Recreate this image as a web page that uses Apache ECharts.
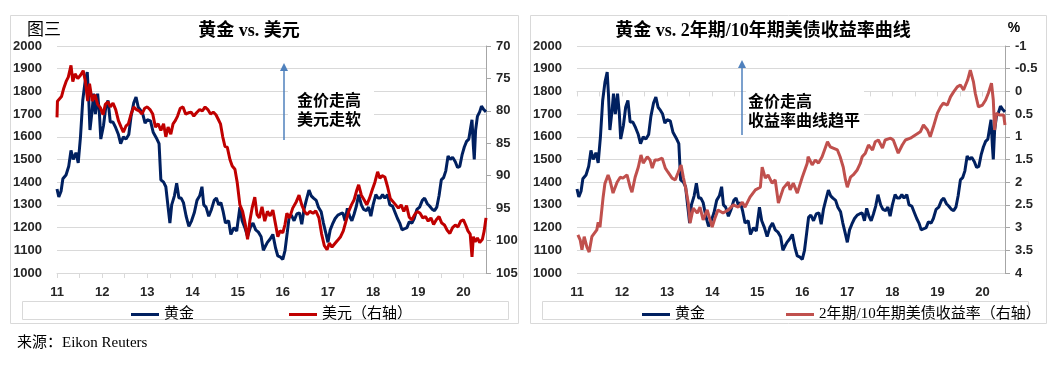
<!DOCTYPE html>
<html><head><meta charset="utf-8">
<script src="https://cdn.jsdelivr.net/npm/echarts@6/dist/echarts.min.js"></script>
<style>html,body{margin:0;padding:0;background:#fff}#c{width:1055px;height:368px}</style>
</head><body><div id="c"></div>
<script>
// ---- data ----
const yearTicks = [11,12,13,14,15,16,17,18,19,20];
// gold price (USD/oz): [decimal year, value]
const gold = [[2011.00,1370],[2011.04,1335],[2011.09,1360],[2011.13,1415],[2011.20,1432],[2011.26,1470],[2011.31,1540],[2011.36,1500],[2011.42,1530],[2011.47,1485],[2011.52,1600],[2011.57,1760],[2011.62,1840],[2011.67,1885],[2011.70,1780],[2011.73,1630],[2011.78,1720],[2011.81,1790],[2011.85,1700],[2011.90,1790],[2011.94,1700],[2011.97,1590],[2012.03,1650],[2012.08,1730],[2012.13,1760],[2012.18,1665],[2012.24,1665],[2012.30,1640],[2012.36,1610],[2012.41,1570],[2012.47,1600],[2012.53,1590],[2012.59,1610],[2012.64,1690],[2012.70,1750],[2012.75,1775],[2012.80,1730],[2012.84,1720],[2012.90,1700],[2012.95,1660],[2013.00,1675],[2013.07,1670],[2013.13,1620],[2013.20,1595],[2013.26,1570],[2013.30,1410],[2013.36,1400],[2013.41,1380],[2013.46,1290],[2013.50,1220],[2013.54,1300],[2013.60,1340],[2013.65,1395],[2013.70,1330],[2013.75,1330],[2013.80,1310],[2013.86,1250],[2013.92,1205],[2013.98,1230],[2014.04,1265],[2014.10,1320],[2014.16,1340],[2014.21,1380],[2014.25,1300],[2014.30,1290],[2014.36,1250],[2014.42,1280],[2014.48,1320],[2014.53,1330],[2014.58,1300],[2014.63,1310],[2014.68,1270],[2014.73,1220],[2014.80,1230],[2014.85,1170],[2014.92,1200],[2014.98,1185],[2015.05,1290],[2015.10,1230],[2015.16,1200],[2015.22,1160],[2015.28,1200],[2015.34,1220],[2015.40,1190],[2015.46,1180],[2015.52,1160],[2015.57,1100],[2015.62,1120],[2015.66,1135],[2015.72,1150],[2015.78,1170],[2015.84,1110],[2015.89,1075],[2015.95,1070],[2016.00,1060],[2016.05,1100],[2016.10,1180],[2016.14,1245],[2016.19,1255],[2016.25,1230],[2016.31,1260],[2016.37,1265],[2016.42,1215],[2016.47,1280],[2016.52,1320],[2016.58,1365],[2016.63,1340],[2016.68,1330],[2016.74,1320],[2016.79,1290],[2016.85,1270],[2016.90,1220],[2016.96,1170],[2017.00,1135],[2017.05,1190],[2017.10,1215],[2017.16,1240],[2017.22,1255],[2017.27,1260],[2017.33,1265],[2017.38,1230],[2017.43,1285],[2017.48,1250],[2017.53,1230],[2017.58,1260],[2017.63,1295],[2017.68,1345],[2017.74,1300],[2017.79,1280],[2017.85,1275],[2017.90,1290],[2017.95,1250],[2018.00,1300],[2018.06,1345],[2018.11,1330],[2018.16,1330],[2018.21,1345],[2018.26,1330],[2018.32,1345],[2018.37,1300],[2018.43,1295],[2018.48,1270],[2018.54,1240],[2018.59,1220],[2018.64,1190],[2018.70,1195],[2018.75,1200],[2018.80,1225],[2018.86,1220],[2018.91,1240],[2018.97,1280],[2019.03,1290],[2019.09,1320],[2019.14,1330],[2019.20,1305],[2019.25,1295],[2019.31,1280],[2019.36,1275],[2019.41,1290],[2019.46,1340],[2019.51,1410],[2019.56,1420],[2019.61,1450],[2019.66,1515],[2019.71,1500],[2019.76,1510],[2019.82,1490],[2019.87,1465],[2019.92,1470],[2019.97,1520],[2020.02,1555],[2020.07,1580],[2020.12,1590],[2020.16,1640],[2020.19,1675],[2020.22,1560],[2020.24,1500],[2020.27,1630],[2020.31,1690],[2020.36,1710],[2020.40,1735],[2020.45,1720],[2020.50,1710]];
// US dollar index (right axis, inverted)
const usd = [[2011.00,81.0],[2011.01,78.5],[2011.05,78.3],[2011.10,77.8],[2011.15,76.5],[2011.20,75.5],[2011.25,74.8],[2011.31,73.0],[2011.35,75.5],[2011.40,74.3],[2011.46,75.0],[2011.52,74.5],[2011.58,73.8],[2011.63,75.5],[2011.68,78.5],[2011.72,75.8],[2011.78,78.5],[2011.84,77.5],[2011.90,79.0],[2011.96,79.5],[2012.02,80.6],[2012.07,79.0],[2012.13,78.6],[2012.18,79.4],[2012.24,78.8],[2012.30,79.8],[2012.36,81.5],[2012.42,82.5],[2012.47,83.3],[2012.53,82.3],[2012.58,82.0],[2012.64,80.5],[2012.70,79.4],[2012.76,79.8],[2012.82,80.0],[2012.88,80.5],[2012.94,79.6],[2013.00,79.4],[2013.06,79.8],[2013.12,80.5],[2013.18,82.5],[2013.24,82.0],[2013.30,83.0],[2013.36,82.0],[2013.41,84.0],[2013.46,82.5],[2013.52,83.6],[2013.57,82.0],[2013.62,81.5],[2013.67,80.8],[2013.73,79.6],[2013.79,79.4],[2013.85,80.5],[2013.91,80.3],[2013.97,80.2],[2014.03,80.8],[2014.09,80.3],[2014.16,79.8],[2014.22,80.0],[2014.28,79.4],[2014.34,79.8],[2014.40,80.5],[2014.46,80.2],[2014.52,80.6],[2014.57,81.3],[2014.62,82.0],[2014.67,84.0],[2014.72,85.5],[2014.77,85.6],[2014.83,87.5],[2014.88,88.5],[2014.94,89.0],[2014.99,91.0],[2015.05,94.5],[2015.11,95.5],[2015.17,97.5],[2015.22,99.8],[2015.27,97.0],[2015.32,95.0],[2015.38,93.3],[2015.43,96.0],[2015.48,96.5],[2015.54,94.8],[2015.60,97.0],[2015.66,95.5],[2015.72,96.2],[2015.78,95.3],[2015.84,97.5],[2015.89,99.4],[2015.94,98.5],[2016.00,98.8],[2016.05,97.5],[2016.09,95.8],[2016.15,96.5],[2016.22,95.0],[2016.30,94.0],[2016.36,93.0],[2016.42,94.5],[2016.48,95.5],[2016.54,96.0],[2016.60,95.5],[2016.67,95.8],[2016.73,95.4],[2016.80,96.5],[2016.86,99.0],[2016.92,100.8],[2016.98,101.4],[2017.03,100.4],[2017.09,101.0],[2017.15,100.5],[2017.21,100.0],[2017.28,99.4],[2017.34,98.5],[2017.40,97.0],[2017.46,95.5],[2017.52,94.5],[2017.58,93.7],[2017.64,92.2],[2017.68,91.4],[2017.74,93.0],[2017.80,93.7],[2017.86,94.5],[2017.92,93.5],[2017.98,92.2],[2018.04,91.0],[2018.10,89.4],[2018.15,90.4],[2018.20,90.0],[2018.26,90.2],[2018.32,91.7],[2018.38,93.5],[2018.44,94.0],[2018.50,94.5],[2018.56,95.0],[2018.62,94.5],[2018.68,95.5],[2018.74,94.6],[2018.80,96.4],[2018.86,96.8],[2018.92,96.0],[2018.98,95.5],[2019.04,95.8],[2019.10,96.5],[2019.16,96.3],[2019.22,97.0],[2019.28,96.5],[2019.34,97.5],[2019.40,96.8],[2019.46,96.3],[2019.52,97.3],[2019.58,97.6],[2019.64,98.4],[2019.70,98.9],[2019.76,98.0],[2019.82,97.6],[2019.88,97.9],[2019.94,97.0],[2020.00,96.8],[2020.05,97.6],[2020.10,98.5],[2020.15,99.0],[2020.19,102.5],[2020.22,99.4],[2020.26,100.2],[2020.31,99.6],[2020.36,100.3],[2020.42,99.8],[2020.46,98.5],[2020.50,96.5]];
// 2y/10y US Treasury yield spread, % (right axis, inverted)
const spread = [[2011.02,3.16],[2011.07,3.27],[2011.11,3.49],[2011.16,3.2],[2011.22,3.43],[2011.27,3.54],[2011.33,3.2],[2011.44,3.05],[2011.47,2.88],[2011.51,2.99],[2011.58,2.33],[2011.62,2.03],[2011.69,1.84],[2011.73,1.95],[2011.80,2.24],[2011.89,2.0],[2011.96,1.89],[2012.02,1.91],[2012.11,1.84],[2012.18,2.11],[2012.22,2.22],[2012.29,1.89],[2012.36,1.67],[2012.42,1.4],[2012.47,1.58],[2012.56,1.44],[2012.62,1.51],[2012.67,1.69],[2012.73,1.51],[2012.80,1.51],[2012.89,1.47],[2012.96,1.69],[2013.02,1.78],[2013.11,1.91],[2013.18,1.95],[2013.24,1.8],[2013.31,1.62],[2013.36,1.89],[2013.42,2.17],[2013.47,2.46],[2013.51,2.9],[2013.58,2.57],[2013.67,2.68],[2013.73,2.55],[2013.80,2.83],[2013.89,2.61],[2013.93,2.57],[2014.00,2.99],[2014.07,2.77],[2014.13,2.61],[2014.24,2.68],[2014.36,2.61],[2014.47,2.5],[2014.58,2.55],[2014.67,2.44],[2014.73,2.55],[2014.84,2.33],[2014.96,2.17],[2015.07,2.11],[2015.11,1.67],[2015.18,1.91],[2015.24,1.84],[2015.33,2.02],[2015.40,1.95],[2015.47,2.46],[2015.58,2.13],[2015.69,2.0],[2015.73,2.17],[2015.80,2.02],[2015.89,2.24],[2016.00,1.89],[2016.11,1.58],[2016.13,1.44],[2016.22,1.62],[2016.29,1.51],[2016.36,1.58],[2016.44,1.44],[2016.56,1.11],[2016.62,1.22],[2016.78,1.29],[2016.84,1.44],[2016.91,1.67],[2016.96,1.95],[2017.00,2.11],[2017.07,1.89],[2017.13,1.84],[2017.22,1.73],[2017.29,1.58],[2017.33,1.44],[2017.40,1.36],[2017.47,1.18],[2017.56,1.29],[2017.62,1.11],[2017.69,1.07],[2017.78,1.25],[2017.84,1.07],[2017.96,1.03],[2018.02,1.07],[2018.13,1.36],[2018.22,1.18],[2018.29,1.07],[2018.40,1.03],[2018.51,0.96],[2018.62,0.89],[2018.69,0.74],[2018.78,0.85],[2018.84,1.0],[2018.91,0.78],[2019.00,0.48],[2019.07,0.34],[2019.13,0.26],[2019.22,0.3],[2019.29,0.12],[2019.36,0.01],[2019.44,-0.1],[2019.51,-0.14],[2019.58,-0.03],[2019.67,-0.25],[2019.73,-0.47],[2019.80,-0.21],[2019.84,0.04],[2019.91,0.34],[2020.00,0.3],[2020.07,0.19],[2020.13,0.04],[2020.20,-0.18],[2020.24,0.19],[2020.27,0.85],[2020.31,0.48],[2020.38,0.52],[2020.47,0.52],[2020.50,0.74]];

const NAVY='#002060', RED='#c00000', BRICK='#c0504d', GRID='#d9d9d9', AX='#a6a6a6', TXT='#262626';
const LAB = {fontFamily:'Liberation Sans',fontWeight:'bold',fontSize:13,color:TXT};
const CJK = '"Liberation Serif","Noto Sans CJK SC"';

function xAx(gi){
  return {type:'value',gridIndex:gi,min:2011,max:2020.5,interval:0.5,
    axisLine:{show:true,lineStyle:{color:GRID,width:1}},
    axisTick:{show:true,length:5,lineStyle:{color:GRID}},
    splitLine:{show:false},
    axisLabel:Object.assign({margin:13,showMaxLabel:false,formatter:v=>Number.isInteger(v)?String(v-2000):''},LAB)};
}
function yLeft(gi){
  return {type:'value',gridIndex:gi,min:1000,max:2000,interval:100,position:'left',
    axisLine:{show:false},axisTick:{show:false},
    splitLine:{show:true,lineStyle:{color:GRID,width:1}},
    axisLabel:Object.assign({margin:15,formatter:v=>String(v)},LAB)};
}
function yRight(gi,min,max,iv){
  return {type:'value',gridIndex:gi,min:min,max:max,interval:iv,position:'right',inverse:true,
    axisLine:{show:true,lineStyle:{color:AX,width:1}},
    axisTick:{show:true,length:5,lineStyle:{color:AX}},
    splitLine:{show:false},
    axisLabel:Object.assign({margin:10,formatter:v=>String(v)},LAB)};
}
function ln(name,data,xi,yi,color){
  return {name:name,type:'line',xAxisIndex:xi,yAxisIndex:yi,data:data,showSymbol:false,symbol:'none',
    lineStyle:{color:color,width:3},itemStyle:{color:color},animation:false};
}
function arrow(x,y1,y2){
  return [{type:'line',shape:{x1:x,y1:y1,x2:x,y2:y2+6},style:{stroke:'#4f81bd',lineWidth:1.5},z:5},
          {type:'polygon',shape:{points:[[x-4,y2+7],[x+4,y2+7],[x,y2-1]]},style:{fill:'#4f81bd'},z:5}];
}
function txt(x,y,s,size,weight,align,ff){
  return {type:'text',x:x,y:y,z:10,style:{text:s,font:(weight||'normal')+' '+size+'px '+(ff||CJK),fill:'#000',textAlign:align||'left',textVerticalAlign:'middle'}};
}

const chart = echarts.init(document.getElementById('c'),null,{renderer:'canvas'});
chart.setOption({
  animation:false,
  grid:[{left:57,right:569,top:46,bottom:95},{left:577,right:50,top:46,bottom:95}],
  xAxis:[xAx(0),xAx(1)],
  yAxis:[yLeft(0),yRight(0,70,105,5),yLeft(1),yRight(1,-1,4,0.5)],
  legend:[
    {left:126,top:302,data:['黄金','美元（右轴）'],icon:'rect',itemWidth:28,itemHeight:3,itemGap:95,
     textStyle:{fontFamily:CJK,fontSize:15,color:'#000'},selectedMode:false},
    {left:637,top:302,data:['黄金','2年期/10年期美债收益率（右轴）'],icon:'rect',itemWidth:28,itemHeight:3,itemGap:81,
     textStyle:{fontFamily:CJK,fontSize:15,color:'#000'},selectedMode:false}
  ],
  series:[
    ln('黄金',gold,0,0,NAVY),
    ln('美元（右轴）',usd,0,1,RED),
    ln('黄金',gold,1,2,NAVY),
    ln('2年期/10年期美债收益率（右轴）',spread,1,3,BRICK)
  ],
  graphic:[
    {type:'rect',shape:{x:10.5,y:15.5,width:508,height:308},style:{fill:'none',stroke:GRID,lineWidth:1},z:-1},
    {type:'rect',shape:{x:530.5,y:15.5,width:516,height:308},style:{fill:'none',stroke:GRID,lineWidth:1},z:-1},
    {type:'rect',shape:{x:22.5,y:301.5,width:486,height:18},style:{fill:'none',stroke:GRID,lineWidth:1},z:-1},
    {type:'rect',shape:{x:542.5,y:301.5,width:486,height:18},style:{fill:'none',stroke:GRID,lineWidth:1},z:-1},
    {type:'rect',shape:{x:288,y:86,width:86,height:44},style:{fill:'#fff'},z:4},
    {type:'rect',shape:{x:746,y:86,width:118,height:46},style:{fill:'#fff'},z:4},
    ...arrow(284,140,64),
    ...arrow(742,135,61),
    txt(27,31,'图三',17,'normal','left'),
    txt(249,31,'黄金 vs. 美元',18,'bold','center'),
    txt(763,31,'黄金 vs. 2年期/10年期美债收益率曲线',18,'bold','center'),
    txt(1014,28,'%',14,'bold','center','Liberation Sans'),
    txt(297,102,'金价走高',16,'bold','left'),
    txt(297,121,'美元走软',16,'bold','left'),
    txt(748,103,'金价走高',16,'bold','left'),
    txt(748,122,'收益率曲线趋平',16,'bold','left'),
    txt(17,343,'来源：Eikon Reuters',15,'normal','left')
  ]
});
</script></body></html>
